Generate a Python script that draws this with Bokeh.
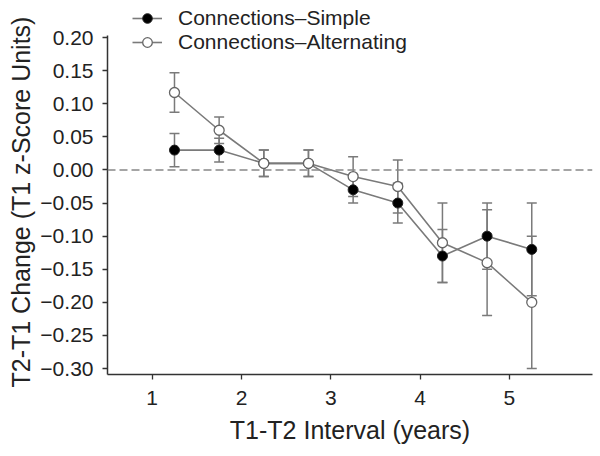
from bokeh.plotting import figure
from bokeh.models import (ColumnDataSource, Whisker, TeeHead, Span, Legend, LegendItem,
                          FixedTicker, CustomJSTickFormatter, Range1d, Title)
from bokeh.embed import file_html
from bokeh.resources import INLINE

# ---- data ----
interval = [1.25, 1.75, 2.25, 2.75, 3.25, 3.75, 4.25, 4.75, 5.25]
simple_mean = [0.03, 0.03, 0.01, 0.01, -0.03, -0.05, -0.13, -0.10, -0.12]
simple_err = [0.025, 0.018, 0.02, 0.02, 0.02, 0.03, 0.04, 0.05, 0.07]
alt_mean = [0.117, 0.06, 0.01, 0.01, -0.01, -0.025, -0.11, -0.14, -0.20]
alt_err = [0.03, 0.02, 0.02, 0.02, 0.03, 0.04, 0.06, 0.08, 0.10]
x_ticks = [1, 2, 3, 4, 5]
y_ticks = [-0.30, -0.25, -0.20, -0.15, -0.10, -0.05, 0.0, 0.05, 0.10, 0.15, 0.20]
series_names = ["Connections\u2013Simple", "Connections\u2013Alternating"]
x_title = "T1-T2 Interval (years)"
y_title = "T2-T1 Change (T1 z-Score Units)"

FONT = "Liberation Sans"
LINE = "#7a7a7a"
AX = "#333333"

src_s = ColumnDataSource(dict(x=interval, y=simple_mean,
                              lo=[m - e for m, e in zip(simple_mean, simple_err)],
                              hi=[m + e for m, e in zip(simple_mean, simple_err)]))
src_a = ColumnDataSource(dict(x=interval, y=alt_mean,
                              lo=[m - e for m, e in zip(alt_mean, alt_err)],
                              hi=[m + e for m, e in zip(alt_mean, alt_err)]))

p = figure(width=600, height=456, output_backend="svg", toolbar_location=None,
           x_range=Range1d(0.5, 5.93), y_range=Range1d(-0.309, 0.256),
           min_border_left=107, min_border_right=8, min_border_top=0, min_border_bottom=82)
p.grid.visible = False
p.outline_line_color = None
p.background_fill_color = "white"

p.add_layout(Span(location=0, dimension="width", line_color="#888888",
                  line_dash="8 4", line_width=1.6))

for src in (src_s, src_a):
    w = Whisker(source=src, base="x", lower="lo", upper="hi",
                line_color=LINE, line_width=1.5,
                upper_head=TeeHead(size=10, line_color=LINE, line_width=1.5),
                lower_head=TeeHead(size=10, line_color=LINE, line_width=1.5))
    p.add_layout(w)

ls = p.line("x", "y", source=src_s, line_color=LINE, line_width=1.6)
la = p.line("x", "y", source=src_a, line_color=LINE, line_width=1.6)
cs = p.scatter("x", "y", source=src_s, size=10, fill_color="black", line_color="#222222", line_width=1)
ca = p.scatter("x", "y", source=src_a, size=10, fill_color="white", line_color="#666666", line_width=1.3)

legend = Legend(items=[LegendItem(label=series_names[0], renderers=[ls, cs]),
                       LegendItem(label=series_names[1], renderers=[la, ca])],
                location=(25, 320), orientation="vertical",
                background_fill_alpha=0, border_line_color=None,
                padding=0, margin=0, spacing=0,
                glyph_width=30, glyph_height=24, label_height=24, label_standoff=16,
                label_text_font=FONT, label_text_font_size="21px", label_text_color="#222222")
p.add_layout(legend, "center")

for ax in (p.xaxis[0], p.yaxis[0]):
    ax.axis_line_color = AX
    ax.axis_line_width = 1.5
    ax.major_tick_line_color = AX
    ax.major_tick_line_width = 1.3
    ax.major_tick_in = 0
    ax.major_tick_out = 5
    ax.minor_tick_line_color = None
    ax.major_label_text_font = FONT
    ax.major_label_text_font_size = "21px"
    ax.major_label_text_color = "#222222"
    ax.axis_label_text_font = FONT
    ax.axis_label_text_font_size = "25px"
    ax.axis_label_text_font_style = "normal"
    ax.axis_label_text_color = "#222222"

p.yaxis.bounds = (-0.309, 0.203)
p.xaxis.ticker = FixedTicker(ticks=x_ticks)
p.yaxis.ticker = FixedTicker(ticks=y_ticks)
p.yaxis.formatter = CustomJSTickFormatter(
    code="return (tick < -1e-9 ? '\u2212' : '') + Math.abs(tick).toFixed(2);")
p.xaxis.axis_label = x_title
p.xaxis.major_label_standoff = 11
p.xaxis.axis_label_standoff = 8
p.yaxis.major_label_standoff = 9

ytitle = Title(text=y_title, align="left", offset=-13, standoff=5,
               text_font=FONT, text_font_size="25px", text_font_style="normal",
               text_color="#222222")
p.add_layout(ytitle, "left")

open("out.html", "w").write(file_html(p, INLINE))
